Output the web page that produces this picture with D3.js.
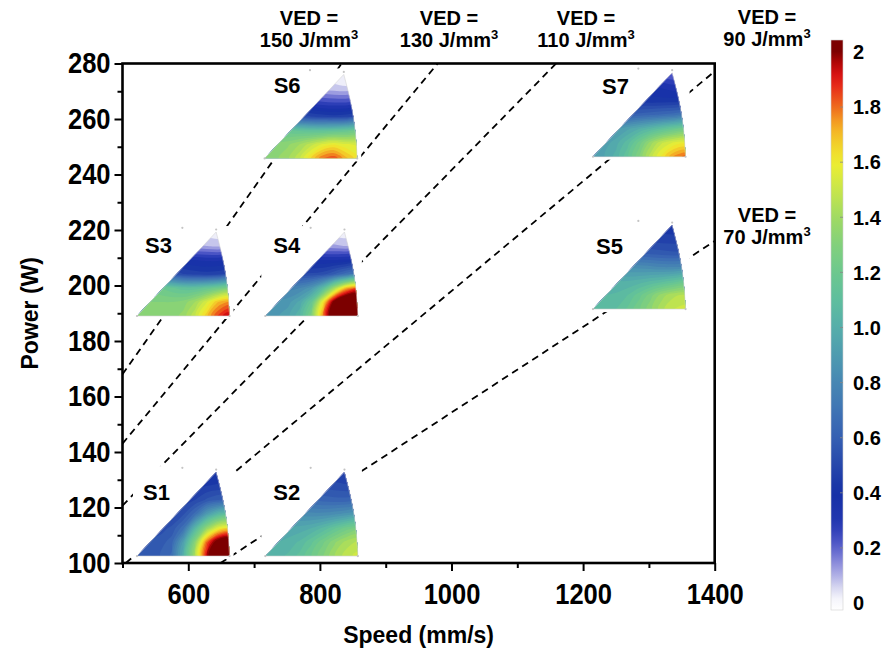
<!DOCTYPE html>
<html>
<head>
<meta charset="utf-8">
<script src="https://cdn.jsdelivr.net/npm/d3@7"></script>
<style>
  body { margin: 0; background: #fff; }
  text { font-family: "Liberation Sans", Arial, sans-serif; font-weight: bold; }
</style>
</head>
<body>
<svg id="chart"></svg>
<script>
const width = 888;
const height = 657;
const marginTop = 63.5;
const marginRight = 173.3;
const marginBottom = 94;
const marginLeft = 122.5;

// axes
const speedDomain = [500, 1400];
const powerDomain = [100, 280];
const speedTicks = [600, 800, 1000, 1200, 1400];
const speedMinorTicks = [500, 700, 900, 1100, 1300];
const powerTicks = [100, 120, 140, 160, 180, 200, 220, 240, 260, 280];
const powerMinorTicks = [110, 130, 150, 170, 190, 210, 230, 250, 270];

// iso-VED lines, end points (speed mm/s, power W)
const vedValues = [150, 130, 110, 90, 70];
const vedStart = [[500, 168], [500, 143], [500, 120.7], [505, 100], [649, 100]];
const vedEnd = [[833, 280], [979, 280], [1159, 280], [1400, 277.2], [1400, 216]];

// samples: lower-left corner of each inverse pole figure inset
const sampleNames = ["S1", "S2", "S3", "S4", "S5", "S6", "S7"];
const sampleSpeed = [522, 717, 522, 717, 1215, 716, 1215];
const samplePower = [102.5, 102.5, 189, 189, 191.5, 245.8, 246.4];

// intensity, 7 rows (top -> bottom) x 9 columns (left -> right)
const gridS1 = [
  0.42, 0.42, 0.41, 0.41, 0.40, 0.40, 0.40, 0.40, 0.41,
  0.44, 0.44, 0.43, 0.43, 0.43, 0.44, 0.45, 0.46, 0.47,
  0.47, 0.47, 0.46, 0.46, 0.47, 0.50, 0.56, 0.60, 0.61,
  0.50, 0.50, 0.49, 0.50, 0.54, 0.67, 0.90, 1.06, 1.10,
  0.53, 0.53, 0.53, 0.56, 0.68, 1.04, 1.35, 1.57, 1.62,
  0.56, 0.56, 0.57, 0.63, 0.92, 1.32, 1.80, 2.10, 2.20,
  0.57, 0.58, 0.60, 0.66, 1.00, 1.42, 1.93, 2.30, 2.40];
const gridS2 = [
  0.48, 0.48, 0.48, 0.47, 0.47, 0.46, 0.45, 0.44, 0.44,
  0.56, 0.56, 0.56, 0.55, 0.54, 0.53, 0.52, 0.51, 0.51,
  0.70, 0.70, 0.69, 0.67, 0.65, 0.63, 0.62, 0.62, 0.63,
  0.86, 0.86, 0.85, 0.83, 0.82, 0.82, 0.84, 0.87, 0.90,
  0.96, 0.96, 0.96, 0.97, 1.00, 1.06, 1.14, 1.22, 1.26,
  1.00, 1.00, 1.02, 1.06, 1.14, 1.24, 1.34, 1.42, 1.46,
  1.02, 1.03, 1.06, 1.12, 1.20, 1.30, 1.40, 1.48, 1.52];
const gridS3 = [
  0.04, 0.04, 0.04, 0.04, 0.04, 0.03, 0.02, 0.01, 0.02,
  0.18, 0.18, 0.16, 0.15, 0.13, 0.11, 0.10, 0.09, 0.10,
  0.40, 0.40, 0.39, 0.37, 0.36, 0.35, 0.34, 0.34, 0.35,
  0.80, 0.74, 0.64, 0.56, 0.50, 0.48, 0.47, 0.48, 0.50,
  1.26, 1.24, 1.20, 1.16, 1.12, 1.12, 1.16, 1.22, 1.26,
  1.30, 1.30, 1.30, 1.30, 1.32, 1.40, 1.54, 1.70, 1.76,
  1.31, 1.31, 1.31, 1.32, 1.37, 1.49, 1.68, 1.86, 1.96];
const gridS4 = [
  0.04, 0.04, 0.04, 0.04, 0.04, 0.03, 0.02, 0.01, 0.02,
  0.20, 0.20, 0.18, 0.16, 0.14, 0.12, 0.11, 0.10, 0.11,
  0.40, 0.40, 0.39, 0.37, 0.36, 0.35, 0.35, 0.36, 0.37,
  0.56, 0.55, 0.53, 0.51, 0.51, 0.53, 0.60, 0.68, 0.72,
  0.78, 0.78, 0.78, 0.80, 0.88, 1.08, 1.42, 1.72, 1.82,
  0.86, 0.86, 0.88, 0.97, 1.16, 1.62, 2.08, 2.28, 2.32,
  0.88, 0.89, 0.94, 1.04, 1.28, 1.78, 2.22, 2.38, 2.42];
const gridS5 = [
  0.44, 0.44, 0.44, 0.44, 0.44, 0.43, 0.42, 0.41, 0.41,
  0.50, 0.50, 0.50, 0.50, 0.49, 0.48, 0.47, 0.47, 0.47,
  0.62, 0.62, 0.62, 0.61, 0.60, 0.58, 0.57, 0.56, 0.56,
  0.85, 0.85, 0.85, 0.84, 0.83, 0.82, 0.80, 0.80, 0.80,
  1.00, 1.00, 1.00, 1.00, 1.02, 1.05, 1.08, 1.12, 1.14,
  1.05, 1.05, 1.06, 1.10, 1.18, 1.28, 1.38, 1.44, 1.46,
  1.06, 1.07, 1.10, 1.16, 1.24, 1.34, 1.44, 1.50, 1.52];
const gridS6 = [
  0.02, 0.02, 0.02, 0.02, 0.02, 0.02, 0.01, 0.00, 0.01,
  0.12, 0.12, 0.11, 0.10, 0.09, 0.08, 0.07, 0.06, 0.07,
  0.32, 0.32, 0.31, 0.30, 0.28, 0.26, 0.25, 0.25, 0.26,
  0.64, 0.62, 0.58, 0.54, 0.50, 0.48, 0.47, 0.48, 0.50,
  1.20, 1.18, 1.16, 1.14, 1.12, 1.12, 1.14, 1.16, 1.18,
  1.32, 1.32, 1.34, 1.40, 1.48, 1.56, 1.60, 1.56, 1.54,
  1.33, 1.34, 1.39, 1.49, 1.65, 1.80, 1.84, 1.72, 1.62];
const gridS7 = [
  0.26, 0.26, 0.25, 0.24, 0.23, 0.22, 0.20, 0.18, 0.18,
  0.38, 0.38, 0.38, 0.38, 0.37, 0.36, 0.34, 0.32, 0.32,
  0.46, 0.46, 0.45, 0.44, 0.43, 0.42, 0.42, 0.42, 0.42,
  0.60, 0.60, 0.60, 0.60, 0.62, 0.64, 0.66, 0.68, 0.70,
  0.82, 0.84, 0.88, 0.94, 1.00, 1.06, 1.12, 1.18, 1.20,
  0.90, 0.92, 0.98, 1.08, 1.22, 1.38, 1.50, 1.56, 1.58,
  0.92, 0.95, 1.02, 1.14, 1.30, 1.48, 1.62, 1.76, 1.82];
const sampleGrids = [gridS1, gridS2, gridS3, gridS4, gridS5, gridS6, gridS7];
const gridCols = 9;
const gridRows = 7;

// colour bar
const colorbarTicks = [0, 0.2, 0.4, 0.6, 0.8, 1.0, 1.2, 1.4, 1.6, 1.8, 2];
const colorbarLabels = ["0", "0.2", "0.4", "0.6", "0.8", "1.0", "1.2", "1.4", "1.6", "1.8", "2"];
const colorStopValues = [0, 0.05, 0.1, 0.15, 0.2, 0.25, 0.3, 0.4, 0.5, 0.6, 0.7, 0.8, 0.9, 1.0,
  1.1, 1.2, 1.3, 1.4, 1.5, 1.6, 1.7, 1.75, 1.8, 1.9, 1.95, 2.0];
const colorStopColors = ["#ffffff", "#dcdcf2", "#b0b0e6", "#8888da", "#5c62cc", "#3846bd", "#2236b0",
  "#1530a6", "#2647ab", "#355fb2", "#3f74b4", "#4787b3", "#4e9bb0", "#55aeaa", "#5fbe9e", "#6cc88e",
  "#82d07c", "#a0da62", "#c8e64a", "#eeee30", "#f4c028", "#f39a22", "#ef6a1c", "#e41818", "#c00808",
  "#7c0000"];

const svg = d3.select("#chart").attr("width", width).attr("height", height);

const x = d3.scaleLinear().domain(speedDomain).range([marginLeft, width - marginRight]);
const y = d3.scaleLinear().domain(powerDomain).range([height - marginBottom, marginTop]);
const color = d3.scaleLinear().domain(colorStopValues).range(colorStopColors).clamp(true);

// iso-VED dashed lines (drawn first, insets cover them)
svg.append("g")
  .selectAll("line")
  .data(vedValues)
  .join("line")
  .attr("x1", (d, i) => x(vedStart[i][0]))
  .attr("y1", (d, i) => y(vedStart[i][1]))
  .attr("x2", (d, i) => x(vedEnd[i][0]))
  .attr("y2", (d, i) => y(vedEnd[i][1]))
  .attr("stroke", "#000")
  .attr("stroke-width", 1.8)
  .attr("stroke-dasharray", "7,5");

// inset triangle geometry (px)
const triW = 92.6;
const triH = 84;
const topX = 0.855;
const bulge = 0.03;
const triPts = [[0, 0]];
d3.range(0, 1.0001, 0.1).forEach((t) => {
  const cx = 1 + (topX - 1) * t;
  triPts.push([(cx + bulge * Math.sin(Math.PI * t)) * triW, -t * triH]);
});
const triPath = d3.line()(triPts) + "Z";

const gx = (v) => ((v - 0.5) / (gridCols - 1)) * triW;
const gy = (v) => -triH + ((v - 0.5) / (gridRows - 1)) * triH;
const ringLine = d3.line().curve(d3.curveCatmullRomClosed.alpha(0.5));
const step = 0.05;
const thresholds = d3.range(0, 2.0001, step);
const contours = d3.contours().size([gridCols, gridRows]).thresholds(thresholds);

function contourPath(c) {
  return c.coordinates
    .map((poly) => poly.map((ring) => ringLine(ring.slice(0, -1).map((p) => [gx(p[0]), gy(p[1])]))).join(""))
    .join("");
}

const labelDx = [6, 8, 8, 8, 3, 9, 9];
const labelDy = [-56, -56, -63, -63, -55, -65, -63];

sampleNames.forEach((name, i) => {
  const g = svg.append("g")
    .attr("transform", `translate(${x(sampleSpeed[i])},${y(samplePower[i])})`);

  // white background of the inset
  g.append("rect")
    .attr("x", -4).attr("y", -triH - 6)
    .attr("width", triW + 8).attr("height", triH + 9)
    .attr("fill", "#fff");

  svg.append("clipPath").attr("id", "clip" + i).append("path").attr("d", triPath);
  const gc = g.append("g").attr("clip-path", `url(#clip${i})`);
  const grid = sampleGrids[i];
  gc.append("path").attr("d", triPath).attr("fill", color(d3.min(grid)));
  gc.selectAll("path.band")
    .data(contours(grid))
    .join("path")
    .attr("class", "band")
    .attr("d", contourPath)
    .attr("fill", (d) => color(d.value + step / 2))
    .attr("fill-rule", "evenodd");

  g.append("path")
    .attr("d", triPath)
    .attr("fill", "none")
    .attr("stroke", "#d4d4d4")
    .attr("stroke-width", 0.6);

  // faint pole marks
  [[0, 0], [1, 0], [topX, 1.03], [0.49, 1.05]].forEach((m) => {
    g.append("circle")
      .attr("cx", m[0] * triW).attr("cy", -m[1] * triH)
      .attr("r", 1.1).attr("fill", "#c4c4c4");
  });

  g.append("text")
    .attr("x", labelDx[i]).attr("y", labelDy[i])
    .attr("font-size", 22)
    .attr("fill", "#000")
    .text(name);
});

// frame
svg.append("rect")
  .attr("x", marginLeft).attr("y", marginTop)
  .attr("width", width - marginLeft - marginRight)
  .attr("height", height - marginTop - marginBottom)
  .attr("fill", "none")
  .attr("stroke", "#000")
  .attr("stroke-width", 2.6);

// x axis
const xAxis = svg.append("g")
  .attr("transform", `translate(0,${height - marginBottom})`)
  .call(d3.axisBottom(x).tickValues(speedTicks).tickFormat(d3.format("d")).tickSize(8).tickPadding(12));
svg.append("g")
  .attr("transform", `translate(0,${height - marginBottom})`)
  .call(d3.axisBottom(x).tickValues(speedMinorTicks).tickSize(5).tickFormat(""))
  .call((g) => g.select(".domain").remove())
  .selectAll("line").attr("stroke-width", 2);

// y axis
const yAxis = svg.append("g")
  .attr("transform", `translate(${marginLeft},0)`)
  .call(d3.axisLeft(y).tickValues(powerTicks).tickFormat(d3.format("d")).tickSize(8).tickPadding(4));
svg.append("g")
  .attr("transform", `translate(${marginLeft},0)`)
  .call(d3.axisLeft(y).tickValues(powerMinorTicks).tickSize(5).tickFormat(""))
  .call((g) => g.select(".domain").remove())
  .selectAll("line").attr("stroke-width", 2);

[xAxis, yAxis].forEach((a) => {
  a.select(".domain").remove();
  a.selectAll("line").attr("stroke-width", 2);
  a.selectAll("text")
    .attr("font-size", 29)
    .attr("font-family", "Liberation Sans, Arial, sans-serif")
    .attr("font-weight", "bold")
    .attr("fill", "#000");
});
// the tick labels of the original are narrow and tall
xAxis.selectAll(".tick text").attr("transform", "scale(0.88,1)");
yAxis.selectAll(".tick text").attr("transform", "translate(-1.4,0) scale(0.88,1)");

// axis titles
svg.append("text")
  .attr("x", (marginLeft + width - marginRight) / 2)
  .attr("y", 643)
  .attr("text-anchor", "middle")
  .attr("font-size", 23)
  .text("Speed (mm/s)");

svg.append("text")
  .attr("transform", `translate(38,${(marginTop + height - marginBottom) / 2}) rotate(-90)`)
  .attr("text-anchor", "middle")
  .attr("font-size", 23)
  .text("Power (W)");

// VED annotations
const vedLabelX = [309, 449, 586, 767, 767];
const vedLabelY = [25, 25, 25, 24, 222];
vedValues.forEach((v, i) => {
  svg.append("text")
    .attr("x", vedLabelX[i]).attr("y", vedLabelY[i])
    .attr("text-anchor", "middle").attr("font-size", 20)
    .text("VED =");
  const t = svg.append("text")
    .attr("x", vedLabelX[i]).attr("y", vedLabelY[i] + 22)
    .attr("text-anchor", "middle").attr("font-size", 20);
  t.append("tspan").text(`${v} J/mm`);
  t.append("tspan").attr("font-size", 13).attr("dy", -8).text("3");
});

// colour bar
const cb = { x: 831, w: 12, top: 40, bottom: 610 };
const cbScale = d3.scaleLinear().domain([0, 2]).range([603, 52]);
const defs = svg.append("defs");
const grad = defs.append("linearGradient")
  .attr("id", "cbgrad")
  .attr("gradientUnits", "userSpaceOnUse")
  .attr("x1", 0).attr("x2", 0)
  .attr("y1", cb.bottom).attr("y2", cb.top);
const lo = cbScale.invert(cb.bottom);
const hi = cbScale.invert(cb.top);
d3.range(0, 1.0001, 0.02).forEach((t) => {
  const v = lo + (hi - lo) * t;
  grad.append("stop").attr("offset", t).attr("stop-color", color(v));
});
svg.append("rect")
  .attr("x", cb.x).attr("y", cb.top)
  .attr("width", cb.w).attr("height", cb.bottom - cb.top)
  .attr("fill", "url(#cbgrad)")
  .attr("stroke", "#cfcfcf")
  .attr("stroke-width", 0.6);

svg.append("g")
  .selectAll("line")
  .data(colorbarTicks.slice(1, -1))
  .join("line")
  .attr("x1", cb.x + cb.w - 3).attr("x2", cb.x + cb.w)
  .attr("y1", (d) => cbScale(d)).attr("y2", (d) => cbScale(d))
  .attr("stroke", "#888").attr("stroke-width", 0.8);

svg.append("g")
  .selectAll("text")
  .data(colorbarTicks)
  .join("text")
  .attr("x", 853)
  .attr("y", (d) => cbScale(d))
  .attr("dy", "0.36em")
  .attr("font-size", 20)
  .text((d, i) => colorbarLabels[i]);
</script>
</body>
</html>
